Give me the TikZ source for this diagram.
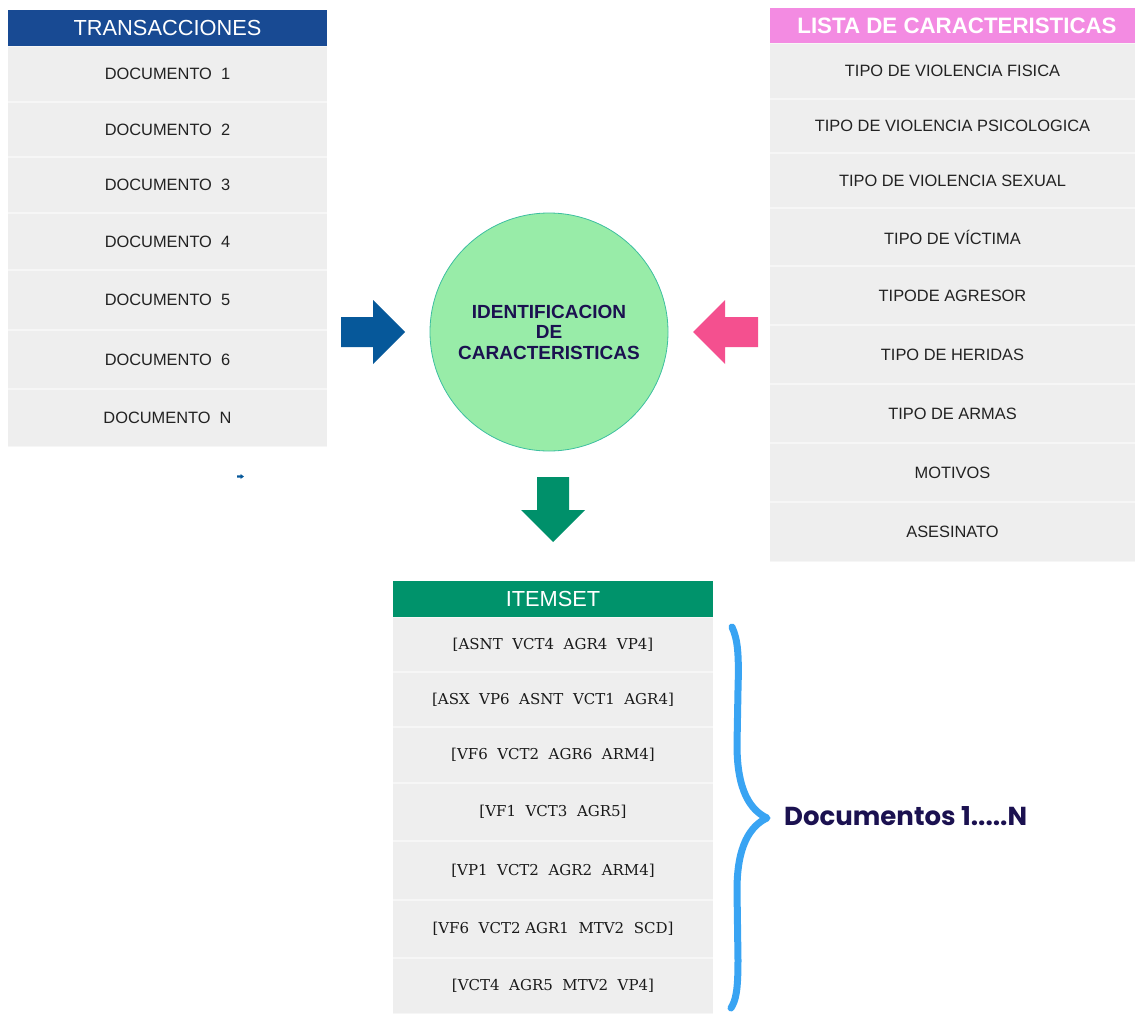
\documentclass[tikz,border=0pt]{standalone}
\usepackage{fontspec}
\setmainfont{Liberation Sans}
\newfontfamily\itemfont{DejaVu Serif}
\newfontfamily\notefont{Poppins}
\definecolor{cellgray}{HTML}{EEEEEE}
\definecolor{seamgray}{HTML}{F6F6F6}
\definecolor{rowtext}{HTML}{222222}
\definecolor{itemtext}{HTML}{1A1A1A}
\definecolor{transblue}{HTML}{184A93}
\definecolor{listpink}{HTML}{F38BE2}
\definecolor{itemgreen}{HTML}{00936B}
\definecolor{circlefill}{HTML}{98ECA8}
\definecolor{circleline}{HTML}{3DBFA0}
\definecolor{navy}{HTML}{1B1150}
\definecolor{arrowblue}{HTML}{06589A}
\definecolor{arrowpink}{HTML}{F4508F}
\definecolor{arrowgreen}{HTML}{00906A}
\definecolor{bracecol}{HTML}{39A4F3}
\begin{document}
\begin{tikzpicture}[x=1pt,y=-1pt,
  cell/.style={fill=cellgray, draw=none, inner sep=0pt, text=rowtext,
    font=\fontsize{16.4}{19}\selectfont},
  itemcell/.style={cell, text=itemtext, font=\itemfont\fontsize{15}{18}\selectfont},
  header/.style={draw=none, inner sep=0pt, text=white},
  hub/.style={circle, fill=circlefill, draw=circleline, line width=0.8pt,
    minimum size=238pt, inner sep=0pt, text=navy, align=center,
    font=\bfseries\fontsize{19}{20.5}\selectfont},
  brace/.style={draw=bracecol, line width=7pt, line cap=round, line join=round},
  note/.style={text=navy, anchor=west, inner sep=0pt,
    font=\notefont\bfseries\fontsize{26}{29}\selectfont}
]
\useasboundingbox (0,0) rectangle (1135,1014);

% light seams shown between the table rows
\fill[seamgray] (8,46) rectangle (327,447);
\fill[seamgray] (770,43) rectangle (1135,562);
\fill[seamgray] (393,617) rectangle (713,1014);

% ---- TRANSACCIONES table ----
\node[header, fill=transblue, minimum width=319pt, minimum height=36pt,
  font=\fontsize{21.8}{24}\selectfont] (trans) at (167.5,28) {TRANSACCIONES};
\foreach \i/\top/\bot/\txt in {1/46/102/{DOCUMENTO\ \ 1},2/102/157/{DOCUMENTO\ \ 2},
  3/157/213/{DOCUMENTO\ \ 3},4/213/270/{DOCUMENTO\ \ 4},5/270/330/{DOCUMENTO\ \ 5},
  6/330/389/{DOCUMENTO\ \ 6},7/389/447/{DOCUMENTO\ \ N}}
  \node[cell, minimum width=319pt, minimum height={\bot-\top-1.4}]
    (doc\i) at (167.5,{(\top+\bot)/2}) {\txt};

% ---- LISTA DE CARACTERISTICAS table ----
\node[header, fill=listpink, minimum width=365pt, minimum height=35pt] (lista) at (952.5,25.5) {};
\node[header, font=\bfseries\fontsize{22.3}{24}\selectfont] (listatitle)
  at ([xshift=4.5pt]lista.center) {LISTA DE CARACTERISTICAS};
\foreach \i/\top/\bot/\txt in {1/43/99/{TIPO DE VIOLENCIA FISICA},
  2/99/153/{TIPO DE VIOLENCIA PSICOLOGICA},3/153/208/{TIPO DE VIOLENCIA SEXUAL},
  4/208/266/{TIPO DE VÍCTIMA},5/266/325/{TIPODE AGRESOR},6/325/384/{TIPO DE HERIDAS},
  7/384/443/{TIPO DE ARMAS},8/443/502/{MOTIVOS},9/502/562/{ASESINATO}}
  \node[cell, minimum width=365pt, minimum height={\bot-\top-1.4}]
    (car\i) at (952.5,{(\top+\bot)/2}) {\txt};

% ---- central process ----
\node[hub] (ident) at (549,332) {IDENTIFICACION\\DE\\CARACTERISTICAS};

% block arrows feeding the process
\fill[arrowblue] (341,317) -- (373,317) -- (373,300) -- (ident.west -| 405,0)
  -- (373,364) -- (373,347) -- (341,347) -- cycle;
\fill[arrowpink] (758,317) -- (725,317) -- (725,300) -- (ident.east -| 693,0)
  -- (725,364) -- (725,347) -- (758,347) -- cycle;
\fill[arrowgreen] (537,477) -- (569,477) -- (569,510) -- (585,510)
  -- (553,542) -- (521,510) -- (537,510) -- cycle;
% small stray arrow mark
\fill[arrowblue] (237,475.3) -- (240.5,475.3) -- (240.5,474) -- (244,476.5)
  -- (240.5,479) -- (240.5,477.7) -- (237,477.7) -- cycle;

% ---- ITEMSET table ----
\node[header, fill=itemgreen, minimum width=320pt, minimum height=36pt,
  font=\fontsize{21.8}{24}\selectfont] (itemset) at (553,599) {ITEMSET};
\foreach \i/\top/\bot/\txt in {1/617/672/{[ASNT\ \ VCT4\ \ AGR4\ \ VP4]},
  2/672/727/{[ASX\ \ VP6\ \ ASNT\ \ VCT1\ \ AGR4]},3/727/783/{[VF6\ \ VCT2\ \ AGR6\ \ ARM4]},
  4/783/841/{[VF1\ \ VCT3\ \ AGR5]},5/841/900/{[VP1\ \ VCT2\ \ AGR2\ \ ARM4]},
  6/900/958/{[VF6\ \ VCT2 AGR1\ \ MTV2\ \ SCD]},7/958/1014/{[VCT4\ \ AGR5\ \ MTV2\ \ VP4]}}
  \node[itemcell, minimum width=320pt, minimum height={\bot-\top-1.4}]
    (item\i) at (553,{(\top+\bot)/2}) {\txt};

% ---- curly brace grouping the itemsets ----
\coordinate (btop) at (732,627);
\coordinate (btip) at (767,818);
\coordinate (bbot) at (731,1008);
\draw[brace] (btop) .. controls (738,640) and (739,655) .. (738,690)
  -- (737,745) .. controls (737,790) and (750,810) .. (btip)
  .. controls (750,826) and (737,846) .. (737,890)
  -- (738,960) .. controls (738,990) and (736,1000) .. (bbot);
\node[note] (docs) at (784,816) {Documentos 1.....N};
\end{tikzpicture}
\end{document}
